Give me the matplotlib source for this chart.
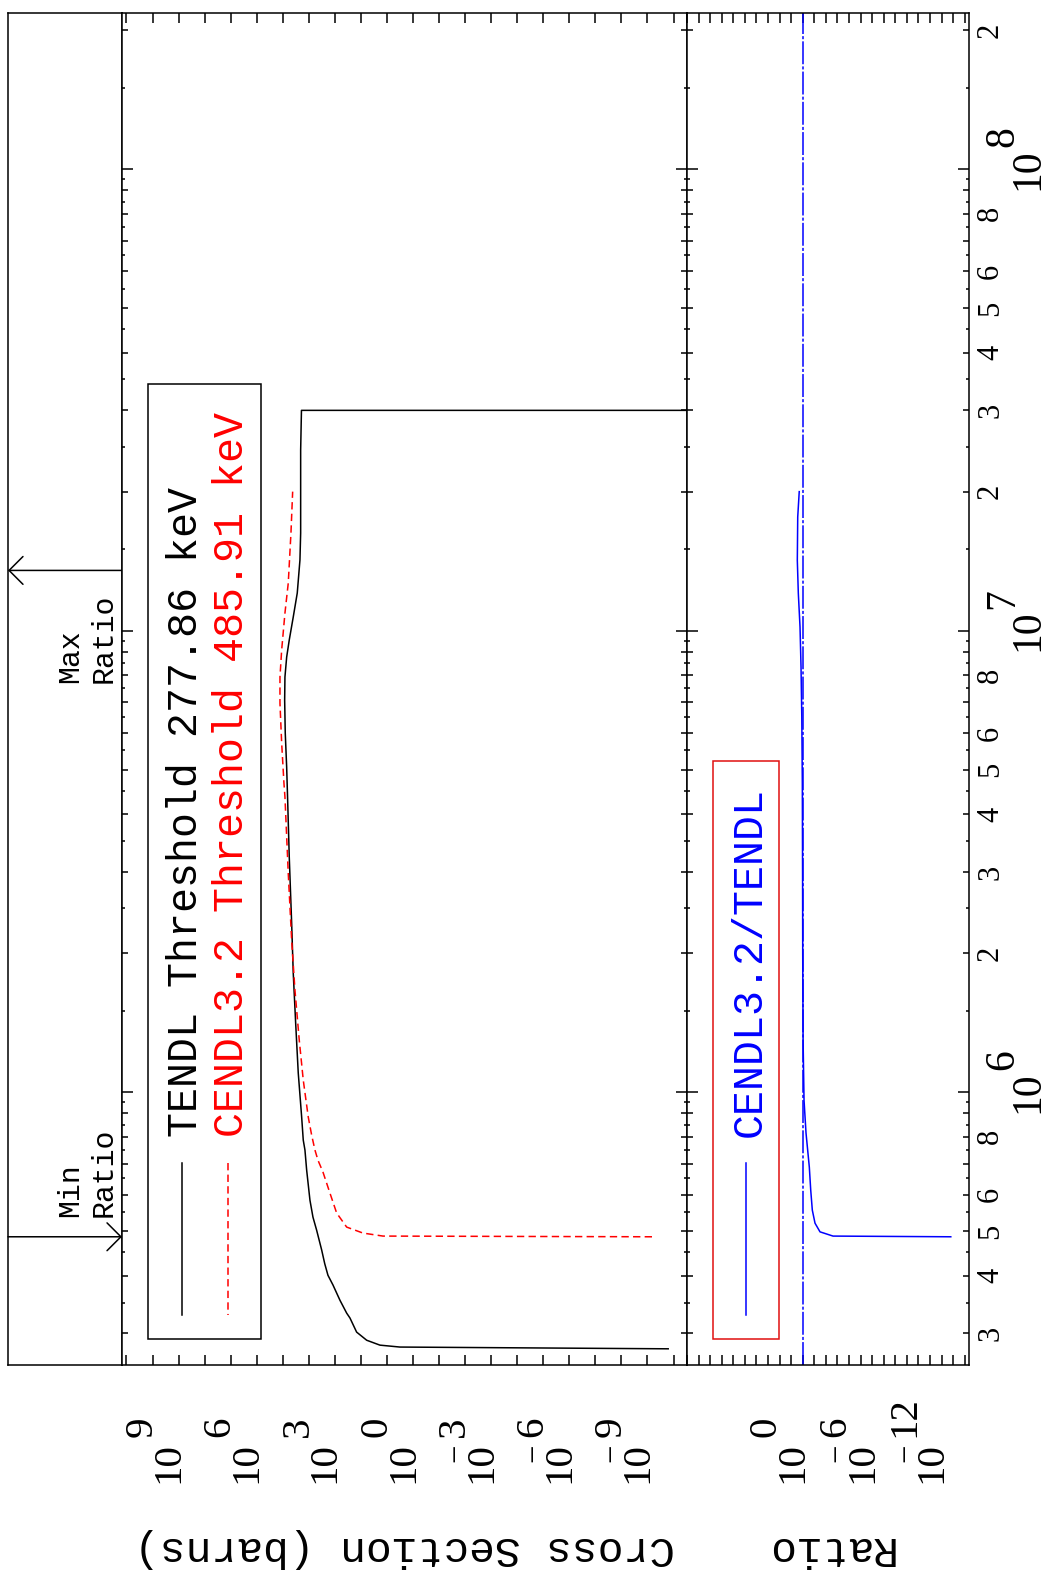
import numpy as np
import matplotlib
matplotlib.use("Agg")
import matplotlib.pyplot as plt
from matplotlib import transforms as mtrans
from matplotlib.patches import Rectangle
from matplotlib.ticker import FixedLocator, NullLocator

# ---------------- data ----------------
tendl_energy = [2.7786e5, 2.803e5, 2.83e5, 2.90e5, 3.02e5, 3.24e5, 3.32e5, 3.54e5,
                3.82e5, 4.01e5, 4.25e5, 4.55e5, 5.02e5, 5.36e5, 5.83e5, 6.78e5, 7.49e5,
                7.87e5, 8.83e5, 1.10e6, 1.411e6, 1.811e6, 2.32e6, 3.23e6, 4.29e6,
                5.06e6, 6.00e6, 7.07e6, 7.93e6, 8.76e6, 9.54e6, 1.07e7, 1.206e7,
                1.422e7, 1.627e7, 2.46e7, 3.0e7, 3.0e7]
tendl_xs = [1.6e-10, 3.17, 18.6, 60, 146, 263, 352, 637,
            1180, 1840, 2450, 3210, 5000, 6930, 9030, 12100, 14060,
            16330, 18810, 25410, 31970, 39550, 45520, 56280, 64850,
            70800, 80200, 84500, 82400, 70800, 56280, 39550, 27750,
            21870, 20550, 20550, 19150, 1e-20]

cendl_energy = [4.8591e5, 4.876e5, 4.95e5, 5.10e5, 5.47e5, 6.04e5, 6.71e5, 7.12e5,
                7.49e5, 8.07e5, 8.83e5, 1.062e6, 1.296e6, 1.663e6, 2.135e6, 2.98e6,
                4.36e6, 4.67e6, 5.71e6, 6.96e6, 7.93e6, 9.07e6, 1.091e7, 1.267e7,
                1.627e7, 2.0e7]
cendl_xs = [6.7e-10, 14.2, 83.4, 352, 853, 1540, 2860, 4450,
            5810, 7780, 10500, 16330, 23260, 34040, 45520, 61500,
            82400, 89950, 110200, 128000, 128000, 110200, 82400, 61500,
            48420, 41690]

ratio_energy = [4.8591e5, 4.876e5, 4.98e5, 5.20e5, 5.55e5, 6.13e5, 6.88e5, 8.15e5,
                9.6e5, 1.3e6, 2.0e6, 3.0e6, 4.68e6, 6.49e6, 8.34e6, 1.018e7,
                1.205e7, 1.42e7, 1.762e7, 2.0e7]
ratio_values = [1.6e-13, 2.4e-3, 0.032, 0.0865, 0.148, 0.203, 0.269, 0.518,
                0.77, 0.93, 1.0, 1.03, 1.08, 1.2, 1.40, 1.71,
                2.4, 2.93, 2.7, 2.0]

max_ratio_energy = 1.35e7
min_ratio_energy = 4.8591e5

energy_limits = (2.563e5, 2.178e8)
xs_limits = (10 ** 11.171, 10 ** -10.518)
ratio_limits = (1e10, 10 ** -14.37)

energy_decades = [1e5, 1e6, 1e7, 1e8, 1e9]
energy_label_decades = [6, 7, 8]
energy_minor_labels = [3e5, 4e5, 5e5, 6e5, 8e5,
                       2e6, 3e6, 4e6, 5e6, 6e6, 8e6,
                       2e7, 3e7, 4e7, 5e7, 6e7, 8e7,
                       2e8]
xs_label_exponents = [9, 6, 3, 0, -3, -6, -9]
ratio_label_exponents = [0, -6, -12]

legend_labels = ["TENDL Threshold 277.86 keV", "CENDL3.2 Threshold 485.91 keV"]
ratio_legend_label = "CENDL3.2/TENDL"
xs_axis_label = "Cross Section (barns)"
ratio_axis_label = "Ratio"

# ---------------- layout ----------------
W, H, DPI = 1048, 1584, 100
PT = 72.0 / DPI
MONO = ["Liberation Mono", "DejaVu Sans Mono"]
SERIF = ["Liberation Serif", "DejaVu Serif"]
LW = 1.1

fig = plt.figure(figsize=(W / DPI, H / DPI), dpi=DPI)
fig.patch.set_facecolor("white")


def rect(x0, x1, y0, y1):
    return [x0 / W, 1 - y1 / H, (x1 - x0) / W, (y1 - y0) / H]


TOP, BOT = 13, 1365
ax0 = fig.add_axes(rect(8, 122, TOP, BOT))
ax1 = fig.add_axes(rect(122, 687, TOP, BOT))
ax2 = fig.add_axes(rect(687, 969, TOP, BOT))

for a in (ax0, ax1, ax2):
    a.set_yscale("log")
    a.set_ylim(energy_limits)
    for s in a.spines.values():
        s.set_linewidth(LW)

ax0.set_xlim(0, 1)
ax0.set_xticks([])
ax0.yaxis.set_major_locator(NullLocator())
ax0.yaxis.set_minor_locator(NullLocator())

ax1.set_xscale("log")
ax1.set_xlim(xs_limits)
ax2.set_xscale("log")
ax2.set_xlim(ratio_limits)

energy_minor = [m * d for d in energy_decades for m in range(2, 10)]
energy_half = [(m + 0.5) * d for d in energy_decades for m in range(1, 10)]

for a in (ax1, ax2):
    a.xaxis.set_major_locator(FixedLocator(10.0 ** np.arange(-16, 13)))
    a.xaxis.set_minor_locator(NullLocator())
    a.yaxis.set_major_locator(FixedLocator(energy_decades))
    a.yaxis.set_minor_locator(FixedLocator(energy_minor))
    a.tick_params(axis="x", which="major", direction="in", top=True, bottom=True,
                  length=10 * PT, width=LW, labelbottom=False, labeltop=False)
    a.tick_params(axis="y", which="major", direction="in", left=True, right=True,
                  length=11 * PT, width=LW, labelleft=False, labelright=False)
    a.tick_params(axis="y", which="minor", direction="in", left=True, right=True,
                  length=5.7 * PT, width=LW, labelleft=False, labelright=False)
    h = fig.add_axes(a.get_position())
    h.set_yscale("log")
    h.set_ylim(energy_limits)
    h.patch.set_visible(False)
    for s in h.spines.values():
        s.set_visible(False)
    h.set_xticks([])
    h.yaxis.set_major_locator(FixedLocator(energy_half))
    h.yaxis.set_minor_locator(NullLocator())
    h.tick_params(axis="y", which="major", direction="in", left=True, right=True,
                  length=3.3 * PT, width=LW, labelleft=False, labelright=False)

# ---------------- curves ----------------
ax1.plot(tendl_xs, tendl_energy, color="black", lw=LW)
ax1.plot(cendl_xs, cendl_energy, color="red", lw=LW, ls=(0, (4.8, 2.8)))
ax2.axvline(1.0, color="blue", lw=LW, ls=(0, (15, 1.4, 2.0, 1.4)))
ax2.plot(ratio_values, ratio_energy, color="blue", lw=LW)

# min / max ratio arrows
ytr = ax0.get_yaxis_transform()
arrow = dict(arrowstyle="->,head_length=0.5,head_width=0.5", lw=LW, color="black",
             shrinkA=0, shrinkB=0, mutation_scale=20)
ax0.annotate("", xy=(0, max_ratio_energy), xytext=(1, max_ratio_energy),
             xycoords=ytr, textcoords=ytr, arrowprops=arrow)
ax0.annotate("", xy=(1, min_ratio_energy), xytext=(0, min_ratio_energy),
             xycoords=ytr, textcoords=ytr, arrowprops=arrow)

# ---------------- overlay (pixel coordinates) ----------------
ov = fig.add_axes([0, 0, 1, 1])
ov.set_xlim(0, W)
ov.set_ylim(H, 0)
ov.axis("off")
ov.patch.set_visible(False)

rot = dict(rotation=90, rotation_mode="anchor")

for txt, y0 in (("Max", 683), ("Min", 1217)):
    ov.text(78, y0, txt, ha="left", va="baseline", fontsize=21.5, family=MONO, **rot)
    ov.text(112, y0, "Ratio", ha="left", va="baseline", fontsize=21.5, family=MONO, **rot)

# legend, upper panel
ov.add_patch(Rectangle((148, 384), 113, 955, fill=False, ec="black", lw=LW))
ov.plot([182, 182], [1163, 1315], color="black", lw=LW)
ov.plot([228, 228], [1163, 1315], color="red", lw=LW, ls=(0, (4.8, 2.8)))
ov.text(197, 1137, legend_labels[0], color="black", ha="left", va="baseline",
        fontsize=30, family=MONO, **rot)
ov.text(243, 1137, legend_labels[1], color="red", ha="left", va="baseline",
        fontsize=30, family=MONO, **rot)

# legend, ratio panel
ov.add_patch(Rectangle((713, 761), 66, 578, fill=False, ec="#e01010", lw=LW))
ov.plot([746, 746], [1163, 1315], color="blue", lw=LW)
ov.text(761, 1137, ratio_legend_label, color="blue", ha="left", va="baseline",
        fontsize=30, family=MONO, **rot)

# axis titles (upside down)
ov.text((122 + 687) / 2, 1548, xs_axis_label, rotation=180, ha="center", va="center",
        fontsize=31, family=MONO)
ov.text((687 + 969) / 2, 1548, ratio_axis_label, rotation=180, ha="center", va="center",
        fontsize=31, family=MONO)


# power-of-ten labels along the cross-section / ratio axes
def power_labels(ax, exponents, size=29.5):
    tr = mtrans.blended_transform_factory(ax.transData, ov.transData)
    tr_exp = mtrans.offset_copy(tr, fig=fig, x=-27, y=0, units="dots")
    for e in exponents:
        v = 10.0 ** e
        ov.text(v, 1483, "10", transform=tr, ha="left", va="baseline",
                fontsize=size, family=SERIF, **rot)
        ov.text(v, 1437, str(abs(e)), transform=tr_exp, ha="left", va="baseline",
                fontsize=size, family=SERIF, **rot)
        if e < 0:
            ov.text(v, 1462, "\u2212", transform=tr_exp, ha="left", va="baseline",
                    fontsize=size * 0.8, family=SERIF, **rot)


power_labels(ax1, xs_label_exponents)
power_labels(ax2, ratio_label_exponents)

# energy labels on the right
tr_e = mtrans.blended_transform_factory(ov.transData, ax2.transData)
tr_e_exp = mtrans.offset_copy(tr_e, fig=fig, x=0, y=22, units="dots")
for v in energy_minor_labels:
    ov.text(998, v, "%d" % round(v / 10 ** np.floor(np.log10(v))), transform=tr_e,
            ha="center", va="baseline", fontsize=22, family=SERIF, **rot)
for d in energy_label_decades:
    ov.text(1038, 10.0 ** d, "10", transform=tr_e, ha="center", va="baseline",
            fontsize=30, family=SERIF, **rot)
    ov.text(1013, 10.0 ** d, str(d), transform=tr_e_exp, ha="left", va="baseline",
            fontsize=30, family=SERIF, **rot)

fig.savefig("out.png", dpi=DPI, facecolor="white")
